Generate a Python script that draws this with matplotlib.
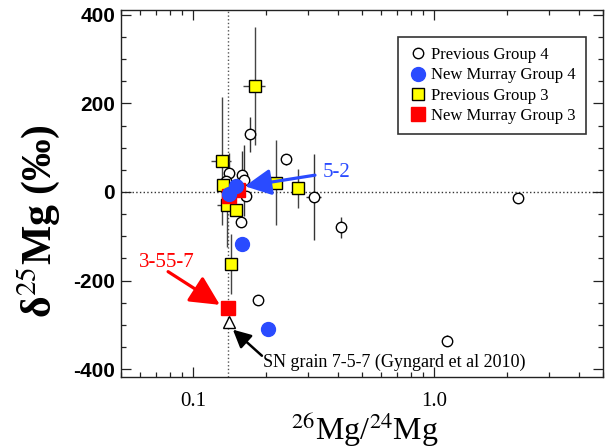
import matplotlib
matplotlib.use("Agg")
from matplotlib import pyplot as plt
from matplotlib.ticker import FixedLocator, NullFormatter, MultipleLocator
import numpy as np

plt.rcParams['font.family'] = ['Liberation Serif', 'DejaVu Serif']
plt.rcParams['mathtext.fontset'] = 'stix'
plt.rcParams['axes.unicode_minus'] = False

# Previous Group 4 (open circles)
pg4_x = [0.172, 0.242, 0.317, 0.410, 2.23, 1.13, 0.186, 0.141, 0.159, 0.162, 0.166, 0.158, 0.137]
pg4_y = [130, 74, -12, -80, -14, -336, -243, 42, 38, 26, -9, -68, 25]
pg4_yerr = [40, 12, 97, 24, 12, 13, 0, 47, 55, 80, 0, 0, 0]
pg4_xerr = [0, 0, 0.022, 0, 0, 0, 0, 0, 0, 0, 0, 0, 0]

# New Murray Group 4 (blue)
ng4_x = [0.151, 0.141, 0.160, 0.205]
ng4_y = [14, -4, -118, -310]

# Previous Group 3 (yellow squares)
pg3_x = [0.131, 0.180, 0.220, 0.271, 0.143, 0.138, 0.151, 0.133]
pg3_y = [70, 240, 21, 8, -163, -29, -41, 16]
pg3_yerr = [145, 133, 96, 44, 68, 95, 0, 0]
pg3_xerr = [0.013, 0.019, 0.008, 0.008, 0.005, 0.012, 0, 0]

# New Murray Group 3 (red squares)
ng3_x = [0.1387, 0.141, 0.154]
ng3_y = [-262, -8, 4]

# SN grain 7-5-7 (Gyngard et al 2010)
sn_x = [0.141]
sn_y = [-293]

solar = 0.13932

fig = plt.figure(figsize=(6.13, 4.48), dpi=100)
ax = fig.add_axes([0.197, 0.1585, 0.786, 0.819])
ax.set_xscale('log')

ax.axvline(solar, color='#555555', ls=':', lw=1, zorder=1)
ax.axhline(0, color='#333333', ls=':', lw=1, zorder=1)

ax.errorbar(pg4_x, pg4_y, yerr=pg4_yerr, xerr=pg4_xerr, fmt='none', ecolor='#333333', elinewidth=1, zorder=2)
ax.errorbar(pg3_x, pg3_y, yerr=pg3_yerr, xerr=pg3_xerr, fmt='none', ecolor='#444444', elinewidth=1, zorder=2)

ax.plot(pg4_x, pg4_y, 'o', ms=7.5, mfc='white', mec='black', mew=1, ls='none', zorder=3, label='Previous Group 4')
ax.plot(pg3_x, pg3_y, 's', ms=8, mfc='#ffff00', mec='black', mew=1, ls='none', zorder=4, label='Previous Group 3')
ax.plot(ng3_x, ng3_y, 's', ms=10.5, mfc='#ff0000', mec='#ff0000', ls='none', zorder=5, label='New Murray Group 3')
ax.plot(ng4_x, ng4_y, 'o', ms=10, mfc='#2a4bff', mec='#2a4bff', ls='none', zorder=6, label='New Murray Group 4')
ax.plot(sn_x, sn_y, '^', ms=9, mfc='white', mec='black', mew=1, ls='none', zorder=5)

ax.set_xlim(0.05, 5)
ax.set_ylim(-418, 411)

ax.xaxis.set_major_locator(FixedLocator([0.1, 1.0]))
ax.set_xticklabels(['0.1', '1.0'], fontsize=15)
minors = [0.05, 0.06, 0.07, 0.08, 0.09] + [i / 10 for i in range(2, 10)] + [2, 3, 4, 5]
ax.xaxis.set_minor_locator(FixedLocator(minors))
ax.xaxis.set_minor_formatter(NullFormatter())
ax.yaxis.set_major_locator(MultipleLocator(200))
ax.yaxis.set_minor_locator(MultipleLocator(50))
for lab in ax.get_yticklabels():
    lab.set_family('Liberation Sans')
    lab.set_fontweight('bold')
    lab.set_fontsize(15)

ax.tick_params(which='both', direction='in', top=True, right=True, color='#222222', width=0.9)
ax.tick_params(which='major', length=7)
ax.tick_params(which='minor', length=3.5)
ax.tick_params(axis='x', which='major', pad=11)
ax.tick_params(axis='y', which='major', pad=4)
for s in ax.spines.values():
    s.set_color('#222222')
    s.set_linewidth(1)

fig.text(0.062, 1 - 221 / 448, 'δ$^{25}$Mg (‰)', rotation=90, fontsize=30, fontweight='bold',
         ha='center', va='center')
fig.text(0.595, 0.04, '$^{26}$Mg/$^{24}$Mg', fontsize=23, ha='center', va='center')

ax.annotate('', xy=(0.1637, 13), xytext=(0.32, 38),
            arrowprops=dict(arrowstyle='-|>,head_length=0.8,head_width=0.4', color='#2a4bff',
                            lw=2.3, mutation_scale=20, shrinkA=0, shrinkB=0), zorder=7)
ax.text(0.345, 43, '5-2', color='#2a4bff', fontsize=15, ha='left', va='center')

ax.annotate('', xy=(0.1289, -255), xytext=(0.0786, -180),
            arrowprops=dict(arrowstyle='-|>,head_length=0.9,head_width=0.45', color='#ff0000',
                            lw=2.3, mutation_scale=20, shrinkA=0, shrinkB=0), zorder=7)
ax.text(0.0776, -160, '3-55-7', color='#ff0000', fontsize=15, ha='center', va='center')

ax.annotate('', xy=(0.146, -311), xytext=(0.1927, -370),
            arrowprops=dict(arrowstyle='-|>,head_length=0.6,head_width=0.3', color='black',
                            lw=1.8, mutation_scale=18, shrinkA=0, shrinkB=0), zorder=7)
ax.text(0.1945, -384, 'SN grain 7-5-7 (Gyngard et al 2010)', fontsize=13, ha='left', va='center')

handles, labels = ax.get_legend_handles_labels()
order = [labels.index(n) for n in ['Previous Group 4', 'New Murray Group 4',
                                    'Previous Group 3', 'New Murray Group 3']]
leg = ax.legend([handles[i] for i in order], [labels[i] for i in order],
                loc='upper right', bbox_to_anchor=(0.965, 0.926), fontsize=12,
                frameon=True, fancybox=False, edgecolor='#333333', framealpha=1,
                labelspacing=0.25, handletextpad=0.2, handlelength=1.2,
                borderpad=0.6, borderaxespad=0)
leg.get_frame().set_linewidth(1.2)

fig.savefig('out.png', dpi=100)
